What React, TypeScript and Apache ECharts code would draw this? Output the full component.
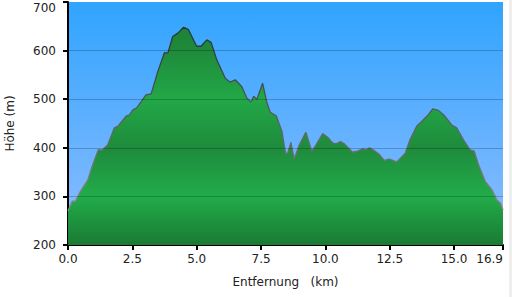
import React, { useEffect, useRef } from "react";
import * as echarts from "echarts";

const distanceKm = [
  0, 0.08, 0.16, 0.28, 0.5, 0.77, 0.96, 1.18, 1.32, 1.54, 1.8, 1.93, 2.26, 2.39, 2.52, 2.67,
  3.03, 3.23, 3.49, 3.75, 3.88, 4.07, 4.27, 4.49, 4.68, 4.84, 5.0, 5.17, 5.39, 5.56, 5.78,
  6.11, 6.3, 6.5, 6.76, 6.95, 7.12, 7.21, 7.34, 7.56, 7.73, 7.86, 8.09, 8.31, 8.46, 8.53,
  8.66, 8.79, 8.96, 9.24, 9.47, 9.6, 9.9, 10.12, 10.28, 10.41, 10.58, 10.74, 11.06, 11.25,
  11.45, 11.58, 11.71, 11.88, 12.1, 12.29, 12.49, 12.77, 13.1, 13.29, 13.55, 13.74, 14.0,
  14.17, 14.39, 14.59, 14.91, 15.1, 15.36, 15.62, 15.78, 15.95, 16.21, 16.47, 16.66, 16.81, 16.9,
];

const elevationM = [
  270, 280, 290, 290, 312, 334, 365, 396, 395, 406, 441, 444, 465, 468, 478, 482,
  509, 511, 557, 596, 595, 629, 636, 648, 643, 626, 609, 609, 622, 617, 581,
  543, 535, 540, 525, 502, 494, 506, 500, 533, 492, 473, 466, 434, 388, 389,
  411, 377, 403, 432, 393, 403, 429, 420, 410, 408, 413, 408, 391, 393,
  398, 396, 400, 395, 386, 374, 377, 371, 389, 417, 445, 454, 468,
  480, 477, 468, 447, 441, 417, 396, 393, 365, 331, 314, 293, 286, 272,
];

const gridLineValues = [300, 400, 500, 600];

const xAxisName = "Entfernung   (km)";
const yAxisName = "Höhe (m)";

export default function App() {
  const ref = useRef<HTMLDivElement>(null);

  useEffect(() => {
    if (!ref.current) return;
    const chart = echarts.init(ref.current, null, { renderer: "svg" });
    const data = distanceKm.map((d, i) => [d, elevationM[i]]);
    const font = "DejaVu Sans, Verdana, sans-serif";

    chart.setOption({
      animation: false,
      textStyle: { fontFamily: font },
      grid: {
        left: 68,
        right: 9,
        top: 2,
        bottom: 52,
        containLabel: false,
        outerBoundsMode: "none",
        show: true,
        borderWidth: 0,
        backgroundColor: {
          type: "linear",
          x: 0,
          y: 0,
          x2: 0,
          y2: 1,
          colorStops: [
            { offset: 0, color: "#30a4ff" },
            { offset: 1, color: "#90bdff" },
          ],
        },
      },
      xAxis: {
        type: "value",
        min: 0,
        max: 16.9,
        interval: 2.5,
        name: xAxisName,
        nameLocation: "middle",
        nameGap: 31,
        nameTextStyle: { color: "#222", fontSize: 12, fontFamily: font },
        axisLine: { show: true, onZero: false, lineStyle: { color: "#000", width: 2 } },
        axisTick: { show: true, length: 5, lineStyle: { color: "#000", width: 2 } },
        axisLabel: {
          color: "#222",
          fontSize: 12,
          margin: 8,
          fontFamily: font,
          alignMaxLabel: "right",
          formatter: (v: number) => v.toFixed(1),
        },
        splitLine: { show: false },
      },
      yAxis: {
        type: "value",
        min: 200,
        max: 700,
        interval: 100,
        name: yAxisName,
        nameLocation: "middle",
        nameGap: 52,
        nameTextStyle: { color: "#222", fontSize: 12, fontFamily: font },
        axisLine: { show: true, lineStyle: { color: "#000", width: 2 } },
        axisTick: { show: true, length: 5, lineStyle: { color: "#000", width: 2 } },
        axisLabel: {
          color: "#222",
          fontSize: 12,
          margin: 12,
          fontFamily: font,
          verticalAlignMaxLabel: "top",
        },
        splitLine: { show: false },
      },
      series: [
        {
          type: "line",
          data,
          showSymbol: false,
          symbol: "none",
          lineStyle: {
            width: 1.3,
            color: {
              type: "linear",
              x: 0,
              y: 0,
              x2: 0,
              y2: 1,
              colorStops: [
                { offset: 0, color: "#243436" },
                { offset: 1, color: "#8a8a8a" },
              ],
            },
          },
          areaStyle: {
            origin: "start",
            opacity: 1,
            color: {
              type: "linear",
              x: 0,
              y: 2,
              x2: 0,
              y2: 245,
              global: true,
              colorStops: [
                { offset: 0, color: "#1b7a33" },
                { offset: 0.2, color: "#1f8a3b" },
                { offset: 0.4, color: "#22a847" },
                { offset: 0.6, color: "#1e8b3c" },
                { offset: 0.8, color: "#22ac4a" },
                { offset: 1, color: "#1a7a32" },
              ],
            },
          },
          markLine: {
            silent: true,
            symbol: "none",
            label: { show: false },
            lineStyle: { color: "rgba(0,0,0,0.22)", width: 1, type: "solid" },
            data: gridLineValues.map((v) => ({ yAxis: v })),
          },
          z: 2,
        },
      ],
      graphic: [
        {
          type: "rect",
          right: 0,
          top: 0,
          shape: { width: 3, height: 297 },
          style: { fill: "#eeeeee" },
          silent: true,
        },
      ],
    });

    return () => chart.dispose();
  }, []);

  return (
    <div
      ref={ref}
      style={{ position: "fixed", left: 0, top: 0, width: 512, height: 297, background: "#fff" }}
    />
  );
}
